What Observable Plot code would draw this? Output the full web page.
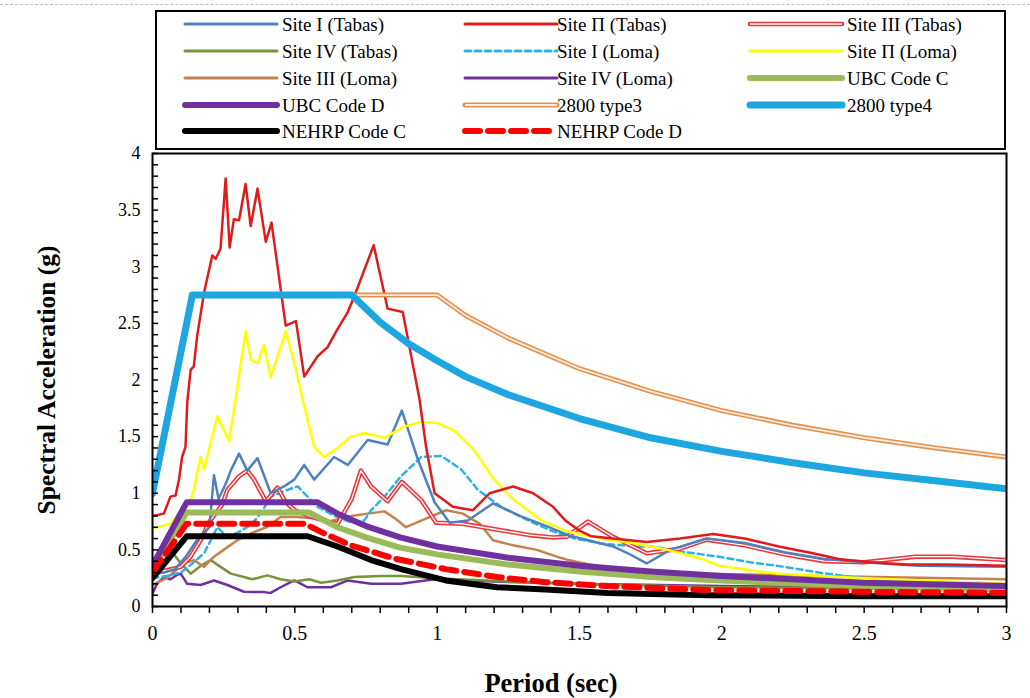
<!DOCTYPE html>
<html>
<head>
<meta charset="utf-8">
<script src="https://cdn.jsdelivr.net/npm/d3@7"></script>
<script src="https://cdn.jsdelivr.net/npm/@observablehq/plot@0.6"></script>
<style>
  body { margin: 0; background: #fff; font-family: "Liberation Serif", "Times New Roman", serif; }
  #wrap { position: relative; width: 1030px; height: 698px; overflow: hidden; }
  #topline { position: absolute; left: 0; top: 4px; width: 1030px; border-top: 1px dashed #a9c4d8; }
  #legend { position: absolute; left: 155px; top: 10px; width: 851px; height: 140px; }
  #legend svg { display: block; }
  #chart { position: absolute; left: 0; top: 0; }
  #chart svg g[aria-label="x-axis tick label"] text { font-size: 20px; }
  #ylabel { position: absolute; left: 47px; top: 380px; transform: translate(-50%, -50%) rotate(-90deg); font-family: "Liberation Serif", serif; font-weight: bold; font-size: 25.5px; white-space: nowrap; color: #000; }
  #xlabel { position: absolute; left: 551px; top: 683px; transform: translate(-50%, -50%); font-family: "Liberation Serif", serif; font-weight: bold; font-size: 26.5px; white-space: nowrap; color: #000; }
</style>
</head>
<body>
<div id="wrap">
  <div id="topline"></div>
  <div id="chart"></div>
  <div id="legend"></div>
  <div id="ylabel">Spectral Acceleration (g)</div>
  <div id="xlabel">Period (sec)</div>
</div>
<script>
// ---------- DATA (period in sec, spectral acceleration in g) ----------
const siteI_Tabas = [[0,0.29],[0.04,0.3],[0.08,0.33],[0.12,0.45],[0.16,0.6],[0.2,0.7],[0.216,1.16],[0.232,0.95],[0.26,1.1],[0.275,1.2],[0.304,1.35],[0.333,1.2],[0.369,1.31],[0.415,1.0],[0.462,1.06],[0.498,1.12],[0.533,1.25],[0.568,1.12],[0.638,1.32],[0.686,1.25],[0.756,1.47],[0.826,1.43],[0.876,1.73],[0.932,1.3],[0.991,0.92],[1.044,0.74],[1.108,0.76],[1.196,0.91],[1.29,0.8],[1.384,0.71],[1.46,0.63],[1.53,0.585],[1.618,0.53],[1.67,0.47],[1.736,0.38],[1.818,0.5],[1.947,0.6],[2.08,0.56],[2.22,0.48],[2.36,0.42],[2.5,0.39],[2.69,0.36],[3.0,0.35]];
const siteII_Tabas = [[0,0.80],[0.04,0.82],[0.063,0.97],[0.081,0.98],[0.093,1.12],[0.104,1.32],[0.116,1.41],[0.122,1.8],[0.134,2.09],[0.145,2.12],[0.157,2.39],[0.181,2.77],[0.21,3.10],[0.222,3.07],[0.239,3.16],[0.257,3.78],[0.271,3.17],[0.286,3.42],[0.304,3.41],[0.327,3.73],[0.345,3.36],[0.369,3.69],[0.398,3.22],[0.418,3.39],[0.468,2.48],[0.504,2.52],[0.533,2.03],[0.58,2.21],[0.615,2.29],[0.65,2.45],[0.686,2.6],[0.709,2.74],[0.777,3.19],[0.826,2.63],[0.879,2.6],[0.938,1.83],[0.961,1.41],[0.991,1.0],[1.055,0.88],[1.126,0.85],[1.184,1.0],[1.267,1.06],[1.337,1.0],[1.407,0.88],[1.45,0.76],[1.5,0.67],[1.542,0.62],[1.618,0.6],[1.736,0.57],[1.853,0.6],[1.97,0.64],[2.08,0.6],[2.2,0.53],[2.32,0.47],[2.41,0.42],[2.52,0.39],[2.65,0.37],[2.79,0.37],[3.0,0.36]];
const siteIII_Tabas = [[0,0.3],[0.05,0.32],[0.099,0.35],[0.134,0.44],[0.169,0.585],[0.2,0.75],[0.245,0.9],[0.263,1.03],[0.304,1.15],[0.333,1.2],[0.357,1.12],[0.398,0.93],[0.439,1.05],[0.468,0.92],[0.5,0.85],[0.55,0.8],[0.6,0.76],[0.65,0.73],[0.7,0.95],[0.732,1.2],[0.768,1.06],[0.826,0.93],[0.876,1.1],[0.944,0.94],[0.996,0.74],[1.09,0.73],[1.208,0.68],[1.325,0.63],[1.407,0.61],[1.454,0.615],[1.53,0.75],[1.618,0.615],[1.736,0.47],[1.853,0.51],[1.947,0.59],[2.08,0.54],[2.22,0.46],[2.36,0.4],[2.5,0.39],[2.68,0.44],[2.81,0.44],[3.0,0.41]];
const siteIV_Tabas = [[0,0.3],[0.03,0.35],[0.063,0.5],[0.1,0.38],[0.134,0.29],[0.17,0.36],[0.204,0.41],[0.239,0.35],[0.275,0.29],[0.321,0.26],[0.35,0.24],[0.404,0.275],[0.45,0.24],[0.498,0.22],[0.55,0.24],[0.592,0.21],[0.65,0.23],[0.709,0.26],[0.8,0.27],[0.873,0.27],[1.0,0.25],[1.25,0.22],[1.5,0.2],[2.0,0.17],[2.5,0.16],[3.0,0.15]];
const siteI_Loma = [[0,0.25],[0.05,0.27],[0.1,0.3],[0.14,0.38],[0.181,0.47],[0.228,0.7],[0.26,0.62],[0.298,0.65],[0.345,0.72],[0.38,0.82],[0.415,0.97],[0.474,1.03],[0.51,1.06],[0.533,1.0],[0.58,0.88],[0.64,0.8],[0.7,0.74],[0.744,0.76],[0.768,0.85],[0.815,0.97],[0.873,1.15],[0.944,1.32],[1.014,1.33],[1.085,1.21],[1.143,1.03],[1.225,0.88],[1.32,0.76],[1.4,0.67],[1.484,0.6],[1.577,0.556],[1.695,0.53],[1.754,0.53],[1.87,0.48],[1.99,0.44],[2.1,0.39],[2.22,0.35],[2.34,0.3],[2.46,0.26],[2.57,0.24],[2.75,0.22],[3.0,0.2]];
const siteII_Loma = [[0,0.69],[0.063,0.73],[0.134,0.94],[0.145,1.03],[0.169,1.32],[0.181,1.21],[0.228,1.68],[0.269,1.46],[0.292,1.83],[0.327,2.43],[0.345,2.18],[0.369,2.15],[0.392,2.31],[0.415,2.02],[0.468,2.43],[0.498,2.15],[0.527,1.83],[0.568,1.41],[0.603,1.32],[0.65,1.40],[0.697,1.5],[0.744,1.53],[0.815,1.49],[0.885,1.59],[0.944,1.63],[1.002,1.62],[1.061,1.55],[1.13,1.38],[1.2,1.12],[1.27,0.94],[1.366,0.76],[1.46,0.66],[1.577,0.6],[1.695,0.556],[1.81,0.5],[1.93,0.42],[1.99,0.36],[2.1,0.32],[2.2,0.29],[2.5,0.25],[3.0,0.2]];
const siteIII_Loma = [[0,0.19],[0.05,0.25],[0.11,0.38],[0.145,0.41],[0.181,0.35],[0.216,0.44],[0.25,0.5],[0.298,0.585],[0.345,0.645],[0.4,0.7],[0.45,0.79],[0.51,0.79],[0.56,0.78],[0.62,0.75],[0.7,0.8],[0.755,0.82],[0.815,0.84],[0.856,0.77],[0.89,0.7],[0.973,0.79],[1.032,0.85],[1.09,0.82],[1.15,0.73],[1.196,0.585],[1.267,0.54],[1.35,0.5],[1.42,0.44],[1.46,0.41],[1.577,0.35],[1.695,0.32],[1.81,0.3],[1.93,0.29],[2.34,0.27],[3.0,0.24]];
const siteIV_Loma = [[0,0.115],[0.016,0.2],[0.04,0.26],[0.063,0.24],[0.087,0.28],[0.099,0.29],[0.122,0.2],[0.169,0.19],[0.216,0.23],[0.263,0.19],[0.321,0.13],[0.392,0.127],[0.415,0.12],[0.45,0.17],[0.498,0.23],[0.545,0.17],[0.627,0.17],[0.686,0.23],[0.768,0.2],[0.873,0.2],[0.991,0.24],[1.2,0.22],[1.5,0.2],[2.0,0.18],[2.5,0.17],[3.0,0.16]];
const ubcC = [[0,0.33],[0.12,0.83],[0.55,0.83],[0.65,0.70],[0.75,0.61],[0.87,0.52],[1.0,0.46],[1.25,0.37],[1.5,0.31],[1.75,0.26],[2.0,0.23],[2.5,0.18],[3.0,0.15]];
const ubcD = [[0,0.36],[0.12,0.92],[0.58,0.92],[0.65,0.82],[0.75,0.71],[0.87,0.61],[1.0,0.53],[1.25,0.43],[1.5,0.36],[1.75,0.31],[2.0,0.27],[2.5,0.21],[3.0,0.18]];
const type3_2800 = [[0,1.0],[0.14,2.75],[1.0,2.75],[1.1,2.57],[1.25,2.37],[1.5,2.10],[1.75,1.90],[2.0,1.73],[2.25,1.60],[2.5,1.49],[2.75,1.40],[3.0,1.32]];
const type4_2800 = [[0,1.0],[0.14,2.75],[0.7,2.75],[0.8,2.51],[0.9,2.32],[1.0,2.17],[1.1,2.03],[1.25,1.87],[1.5,1.66],[1.75,1.49],[2.0,1.37],[2.25,1.27],[2.5,1.18],[2.75,1.11],[3.0,1.04]];
const nehrpC = [[0,0.25],[0.12,0.62],[0.545,0.62],[0.65,0.53],[0.768,0.41],[0.873,0.33],[1.03,0.23],[1.21,0.17],[1.38,0.15],[1.6,0.12],[1.95,0.1],[2.5,0.09],[3.0,0.09]];
const nehrpD = [[0,0.3],[0.12,0.73],[0.535,0.73],[0.603,0.645],[0.697,0.54],[0.815,0.45],[0.856,0.42],[1.03,0.33],[1.21,0.26],[1.38,0.215],[1.6,0.18],[1.95,0.145],[2.5,0.13],[3.0,0.12]];

const seriesNames = ["Site I (Tabas)","Site Π (Tabas)","Site III (Tabas)","Site IV (Tabas)","Site I (Loma)","Site Π (Loma)","Site III (Loma)","Site IV (Loma)","UBC Code C","UBC Code D","2800 type3","2800 type4","NEHRP Code C","NEHRP Code D"];
const seriesValues = [siteI_Tabas, siteII_Tabas, siteIII_Tabas, siteIV_Tabas, siteI_Loma, siteII_Loma, siteIII_Loma, siteIV_Loma, ubcC, ubcD, type3_2800, type4_2800, nehrpC, nehrpD];
const xMajorTicks = [0, 0.5, 1, 1.5, 2, 2.5, 3];
const yMajorTicks = [0, 0.5, 1, 1.5, 2, 2.5, 3, 3.5, 4];

// ---------- STYLES ----------
const styles = {
  "Site I (Tabas)":   {color: "#4f81bd", width: 2.5},
  "Site Π (Tabas)":   {color: "#e01b1b", width: 2.5},
  "Site III (Tabas)": {color: "#e8383d", width: 4.5, inner: "#ffffff", innerWidth: 1.3},
  "Site IV (Tabas)":  {color: "#77933c", width: 2.5},
  "Site I (Loma)":    {color: "#2fb1e3", width: 2.5, dash: "6,4"},
  "Site Π (Loma)":    {color: "#ffff00", width: 2.5},
  "Site III (Loma)":  {color: "#c4824c", width: 2.5},
  "Site IV (Loma)":   {color: "#7030a0", width: 2.5},
  "UBC Code C":       {color: "#9bbb59", width: 6},
  "UBC Code D":       {color: "#7030a0", width: 6},
  "2800 type3":       {color: "#e0914f", width: 5, inner: "#fde9d9", innerWidth: 1.8},
  "2800 type4":       {color: "#1ea6e0", width: 7},
  "NEHRP Code C":     {color: "#000000", width: 6},
  "NEHRP Code D":     {color: "#ff0000", width: 6, dash: "15,8"}
};
const drawOrder = ["Site IV (Loma)","Site IV (Tabas)","Site III (Loma)","Site I (Loma)","Site III (Tabas)","Site I (Tabas)","Site Π (Loma)","Site Π (Tabas)","2800 type3","2800 type4","UBC Code C","UBC Code D","NEHRP Code C","NEHRP Code D"];

// ---------- CHART ----------
const table = seriesNames.map((name, i) => ({name, data: seriesValues[i].map(([x, y]) => ({x, y}))}));
const lineMarks = [];
for (const name of drawOrder) {
  const s = table.find(d => d.name === name);
  const st = styles[name];
  lineMarks.push(Plot.line(s.data, {x: "x", y: "y", stroke: st.color, strokeWidth: st.width, strokeDasharray: st.dash, strokeLinejoin: "round", clip: true}));
  if (st.inner) lineMarks.push(Plot.line(s.data, {x: "x", y: "y", stroke: st.inner, strokeWidth: st.innerWidth, strokeLinejoin: "round", clip: true}));
}
const xMinor = d3.range(0, 31).map(i => i / 10);
const yMinor = d3.range(0, 41).map(i => i / 10);

const chart = Plot.plot({
  width: 1030,
  height: 698,
  marginLeft: 152,
  marginRight: 24,
  marginTop: 153,
  marginBottom: 92,
  style: {fontFamily: "Liberation Serif, Times New Roman, serif", fontSize: "18px", color: "#000", background: "transparent"},
  x: {domain: [0, 3], label: null},
  y: {domain: [0, 4], label: null},
  marks: [
    ...lineMarks,
    Plot.axisY(yMinor, {tickSize: -6, text: null, stroke: "#000", strokeWidth: 1.5}),
    Plot.axisY(yMajorTicks, {tickSize: 0, tickPadding: 12, tickFormat: d => String(d)}),
    Plot.axisX(xMinor, {tickSize: 7, text: null, stroke: "#000", strokeWidth: 1.5}),
    Plot.axisX(xMajorTicks, {tickSize: 0, tickPadding: 19, tickFormat: d => String(d)}),
    Plot.frame({stroke: "#000", strokeWidth: 2})
  ]
});
document.getElementById("chart").appendChild(chart);

// ---------- LEGEND (SVG, swatches + text) ----------
const colSwatchX = [30, 310, 595];
const colTextX = [127, 402, 692];
const swatchW = 92;
const rowY = [12, 39, 66, 93, 119];
const lg = d3.select("#legend").append("svg").attr("width", 851).attr("height", 140);
lg.append("rect").attr("x", 1).attr("y", 1).attr("width", 849).attr("height", 138)
  .attr("fill", "#fff").attr("stroke", "#000").attr("stroke-width", 2);
seriesNames.forEach((name, i) => {
  const col = i % 3, row = Math.floor(i / 3);
  const st = styles[name];
  const y = rowY[row] + 2;
  lg.append("line").attr("x1", colSwatchX[col]).attr("x2", colSwatchX[col] + swatchW)
    .attr("y1", y).attr("y2", y).attr("stroke", st.color).attr("stroke-width", Math.max(st.width, 3))
    .attr("stroke-linecap", "round").attr("stroke-dasharray", st.dash || null);
  if (st.inner) lg.append("line").attr("x1", colSwatchX[col]).attr("x2", colSwatchX[col] + swatchW)
    .attr("y1", y).attr("y2", y).attr("stroke", st.inner).attr("stroke-width", st.innerWidth);
  lg.append("text").attr("x", colTextX[col]).attr("y", y).attr("dy", "0.35em")
    .attr("font-family", "Liberation Serif, serif").attr("font-size", 19).attr("fill", "#000")
    .text(name);
});
</script>
</body>
</html>
